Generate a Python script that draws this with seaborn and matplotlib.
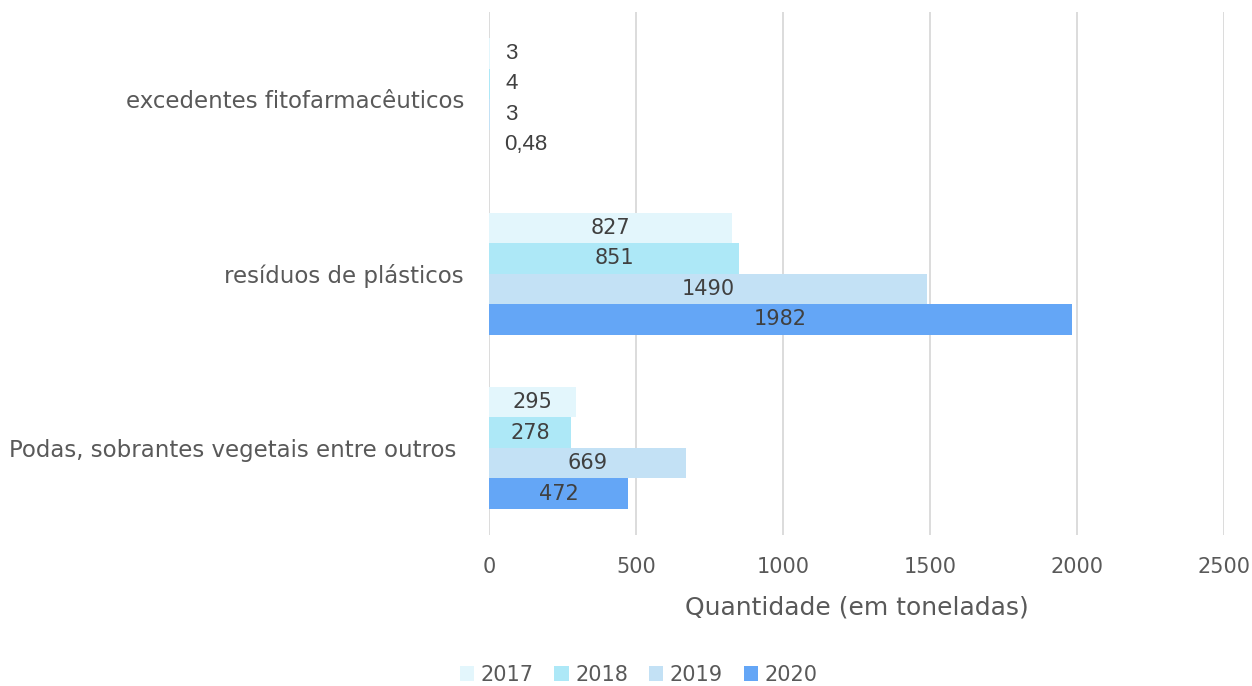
import matplotlib
matplotlib.use('Agg')
import matplotlib.pyplot as plt
import seaborn as sns
import pandas as pd

# Dados
categorias = ['excedentes fitofarmacêuticos', 'resíduos de plásticos', 'Podas, sobrantes vegetais entre outros ']
anos = ['2017', '2018', '2019', '2020']
v2017 = [3, 827, 295]
v2018 = [4, 851, 278]
v2019 = [3, 1490, 669]
v2020 = [0.48, 1982, 472]
cores = ['#E3F6FC', '#ADE8F7', '#C3E1F5', '#64A6F6']

linhas = []
for ano, vals in zip(anos, [v2017, v2018, v2019, v2020]):
    for cat, v in zip(categorias, vals):
        linhas.append({'categoria': cat, 'ano': ano, 'valor': v})
df = pd.DataFrame(linhas)

sns.set_style('white')
plt.rcParams['font.family'] = ['DejaVu Sans']

fig = plt.figure(figsize=(12.52, 6.86), dpi=100)
ax = fig.add_axes([0.3906, 0.22, 0.587, 0.7625])

sns.barplot(data=df, y='categoria', x='valor', hue='ano', palette=cores, saturation=1,
            orient='h', width=0.7, ax=ax, legend=True, linewidth=0, zorder=3)

# Rótulos dos valores
def fmt(v):
    return ('%g' % v).replace('.', ',')

for cont in ax.containers:
    grandes = [fmt(b.get_width()) if b.get_width() > 50 else '' for b in cont]
    pequenos = [fmt(b.get_width()) if b.get_width() <= 50 else '' for b in cont]
    ax.bar_label(cont, labels=grandes, label_type='center', fontsize=15, color='#404040')
    ax.bar_label(cont, labels=pequenos, label_type='edge', padding=11, fontsize=16,
                 color='#404040', family='Liberation Sans')

ax.set_xlim(0, 2500)
ax.set_ylim(2.5, -0.5)
ax.set_xticks([0, 500, 1000, 1500, 2000, 2500])
ax.grid(axis='x', color='#D9D9D9', linewidth=1.3, zorder=0)
for s in ax.spines.values():
    s.set_visible(False)
ax.tick_params(axis='x', labelsize=15, labelcolor='#595959', length=0, pad=16)
ax.tick_params(axis='y', labelsize=16.5, labelcolor='#595959', length=0, pad=18)
ax.set_xlabel('Quantidade (em toneladas)', fontsize=18, color='#595959', labelpad=13)
ax.set_ylabel('')

ax.get_legend().remove()
handles, labels = ax.get_legend_handles_labels()
fig.legend(handles, labels, loc='center', bbox_to_anchor=(0.51, 0.016), ncol=4, frameon=False,
           fontsize=15, labelcolor='#595959', handlelength=0.7, handleheight=0.7,
           handletextpad=0.3, columnspacing=1.0)

fig.savefig('out.png', dpi=100)
